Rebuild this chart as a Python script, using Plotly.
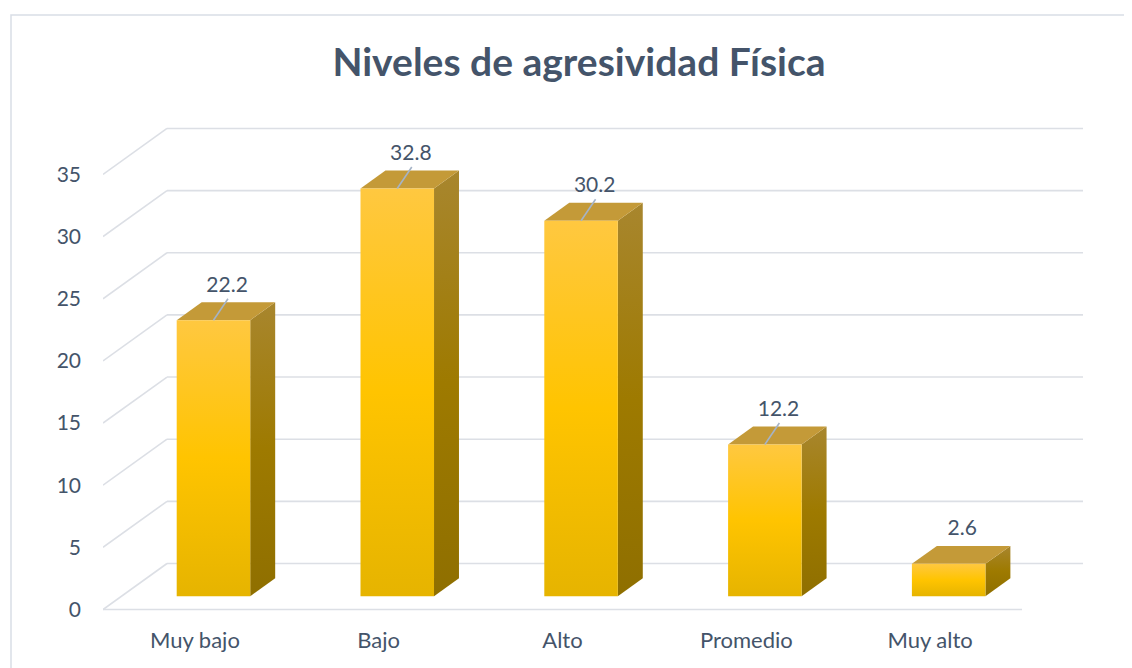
import plotly.graph_objects as go

# ---------------- data ----------------
categories = ["Muy bajo", "Bajo", "Alto", "Promedio", "Muy alto"]
values = [22.2, 32.8, 30.2, 12.2, 2.6]
y_ticks = [0, 5, 10, 15, 20, 25, 30, 35]
title_text = "Niveles de agresividad Física"

# ---------------- geometry (pixel layout, page coordinates) ----------------
OFF = 8                                        # body margin of the html page
W, H = 1132 - OFF, 668 - OFF                   # figure size
PL, PR, PT, PB = 103, 1083, 110, 612           # plot area in page pixels
PX_PER_X = 183.8                               # px per category unit
PX_PER_Y = 12.43                               # px per value unit
Y0_PX = 609.5                                  # page pixel of value 0 on front plane
x_lo = -0.5
x_hi = x_lo + (PR - PL) / PX_PER_X
y_lo = (Y0_PX - PB) / PX_PER_Y
y_hi = (Y0_PX - PT) / PX_PER_Y

DX = 64 / PX_PER_X      # depth offset (x units)
DY = 46 / PX_PER_Y      # depth offset (y units)
F0, F1 = 0.29, 0.68     # bar front / back depth fractions
HW = 0.2                # half bar width

GRID = "#DCDFE5"
TXT = "#44546A"
FONT = "Lato"

fig = go.Figure()

def poly(xs, ys, **kw):
    fig.add_trace(go.Scatter(x=xs, y=ys, mode="lines", hoverinfo="skip",
                             showlegend=False, cliponaxis=False, **kw))

n = len(categories)
# back wall gridlines + side wall diagonals
for v in y_ticks:
    poly([x_lo + DX, n - 0.5 + DX], [v + DY, v + DY], line=dict(color=GRID, width=1.6))
    poly([x_lo, x_lo + DX], [v, v + DY], line=dict(color=GRID, width=1.6))
# front floor edge
poly([x_lo, n - 0.5], [0, 0], line=dict(color=GRID, width=1.6))

# bars
for i, v in enumerate(values):
    xa, xb = i - HW, i + HW
    fx, fy = F0 * DX, F0 * DY
    bx, by = F1 * DX, F1 * DY
    # side face
    poly([xb + fx, xb + bx, xb + bx, xb + fx, xb + fx],
         [fy, by, v + by, v + fy, fy],
         fill="toself", line=dict(width=0, color="rgba(0,0,0,0)"),
         fillcolor="#9C7A14",
         fillgradient=dict(type="vertical",
                           colorscale=[[0, "#8F6F00"], [0.5, "#9E7A00"], [1, "#A8862E"]]))
    # top face
    poly([xa + fx, xb + fx, xb + bx, xa + bx, xa + fx],
         [v + fy, v + fy, v + by, v + by, v + fy],
         fill="toself", line=dict(width=0, color="rgba(0,0,0,0)"),
         fillcolor="#C49A38")
    # front face
    poly([xa + fx, xb + fx, xb + fx, xa + fx, xa + fx],
         [fy, fy, v + fy, v + fy, fy],
         fill="toself", line=dict(width=0, color="rgba(0,0,0,0)"),
         fillcolor="#FFC000",
         fillgradient=dict(type="vertical",
                           colorscale=[[0, "#E6B400"], [0.5, "#FFC400"], [1, "#FFC840"]]))
    # leader line
    if v > 5:
        poly([i + fx, i + 0.18], [v + fy, v + 2.8], line=dict(color="#A5B3C6", width=1.6))

# data labels
fig.add_trace(go.Scatter(
    x=[i + 0.175 for i in range(n)], y=[v + 3.8 for v in values],
    mode="text", text=[f"{v:.1f}" for v in values],
    textfont=dict(family=FONT, size=21, color=TXT),
    hoverinfo="skip", showlegend=False, cliponaxis=False))

def px_to_paper_x(px):
    return (px - PL) / (PR - PL)

def px_to_paper_y(py):
    return (PB - py) / (PB - PT)

fig.add_shape(type="rect", xref="paper", yref="paper",
              x0=px_to_paper_x(11), x1=px_to_paper_x(1150),
              y0=px_to_paper_y(700), y1=px_to_paper_y(15),
              line=dict(color="#D9DEE6", width=1.5), layer="below")

fig.update_layout(
    width=W, height=H,
    margin=dict(l=PL - OFF, r=W - (PR - OFF), t=PT - OFF, b=H - (PB - OFF), pad=0),
    paper_bgcolor="white", plot_bgcolor="white",
    title=dict(text=f"<b>{title_text}</b>", x=(579 - OFF) / W, xanchor="center",
               y=1 - (62 - OFF) / H, yanchor="middle", yref="container",
               font=dict(family=FONT, size=39, color=TXT)),
    xaxis=dict(range=[x_lo, x_hi], tickvals=list(range(n)), ticktext=categories,
               showgrid=False, zeroline=False, showline=False, ticks="",
               ticklabelstandoff=13,
               tickfont=dict(family=FONT, size=22, color=TXT), fixedrange=True),
    yaxis=dict(range=[y_lo, y_hi], tickvals=y_ticks,
               showgrid=False, zeroline=False, showline=False, ticks="",
               ticklabelstandoff=21,
               tickfont=dict(family=FONT, size=21, color=TXT), fixedrange=True),
)

fig.write_html("out.html")
